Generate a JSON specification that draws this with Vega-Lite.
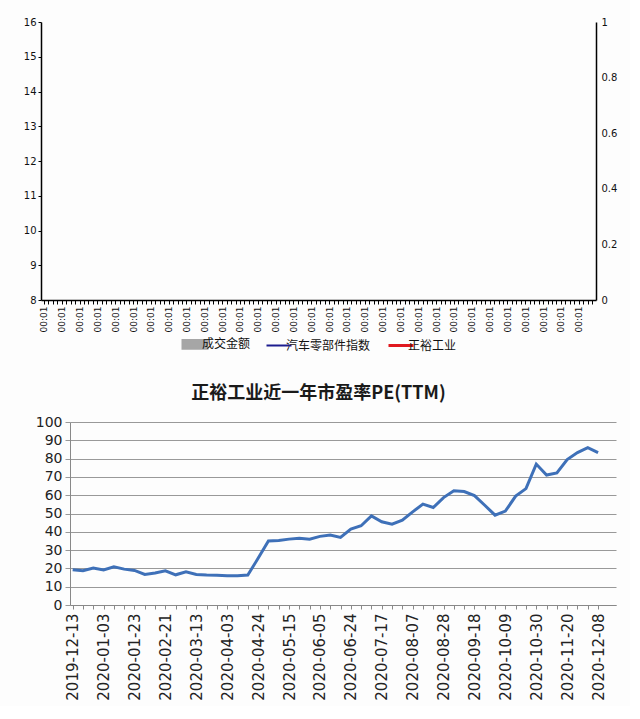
{
  "$schema": "https://vega.github.io/schema/vega-lite/v6.json",
  "background": "#fdfdfd",
  "padding": {"left": 21, "top": 17, "right": 5, "bottom": 5},
  "spacing": 32,
  "resolve": {"scale": {"color": "independent"}, "legend": {"color": "independent"}},
  "config": {"view": {"stroke": null}, "font": "DejaVu Sans"},
  "vconcat": [
    {
      "width": 526,
      "height": 278,
      "data": {"values": [
        {"slot":1},{"slot":2},{"slot":3},{"slot":4},{"slot":5},{"slot":6},{"slot":7},{"slot":8},{"slot":9},{"slot":10},
        {"slot":11},{"slot":12},{"slot":13},{"slot":14},{"slot":15},{"slot":16},{"slot":17},{"slot":18},{"slot":19},{"slot":20},
        {"slot":21},{"slot":22},{"slot":23},{"slot":24},{"slot":25},{"slot":26},{"slot":27},{"slot":28},{"slot":29},{"slot":30},
        {"slot":31},{"slot":32},{"slot":33},{"slot":34},{"slot":35},{"slot":36},{"slot":37},{"slot":38},{"slot":39},{"slot":40},
        {"slot":41},{"slot":42},{"slot":43},{"slot":44},{"slot":45},{"slot":46},{"slot":47},{"slot":48},{"slot":49},{"slot":50},
        {"slot":51},{"slot":52},{"slot":53},{"slot":54},{"slot":55},{"slot":56},{"slot":57},{"slot":58},{"slot":59},{"slot":60},
        {"slot":61},{"slot":62},{"slot":63},{"slot":64},{"slot":65},{"slot":66},{"slot":67},{"slot":68},{"slot":69},{"slot":70},
        {"slot":71},{"slot":72},{"slot":73},{"slot":74},{"slot":75},{"slot":76},{"slot":77},{"slot":78},{"slot":79},{"slot":80},
        {"slot":81},{"slot":82},{"slot":83},{"slot":84},{"slot":85},{"slot":86},{"slot":87},{"slot":88},{"slot":89},{"slot":90},
        {"slot":91},{"slot":92},{"slot":93},{"slot":94},{"slot":95},{"slot":96},{"slot":97},{"slot":98},{"slot":99},{"slot":100},
        {"slot":101},{"slot":102},{"slot":103},{"slot":104},{"slot":105},{"slot":106},{"slot":107},{"slot":108},{"slot":109},{"slot":110},
        {"slot":111},{"slot":112},{"slot":113},{"slot":114},{"slot":115},{"slot":116},{"slot":117},{"slot":118},{"slot":119},{"slot":120},
        {"slot":121},{"slot":122},{"slot":123},{"slot":124}
      ]},
      "layer": [
        {
          "mark": {"type": "rule", "strokeOpacity": 0},
          "encoding": {
            "x": {
              "field": "slot", "type": "ordinal",
              "scale": {"padding": 0.5, "range": [-29, 526]},
              "axis": {
                "title": null, "labelAngle": -90, "labelOverlap": false,
                "labelExpr": "datum.value % 4 == 1 ? '00:01' : ''",
                "labelFont": "DejaVu Sans", "labelFontSize": 9, "labelColor": "#111",
                "labelPadding": 2, "tickSize": 4, "tickColor": "#000", "tickWidth": 1,
                "domainColor": "#000", "domainWidth": 1.5
              }
            }
          }
        },
        {
          "mark": {"type": "line"},
          "encoding": {
            "x": {"field": "slot", "type": "ordinal"},
            "y": {
              "field": "index_value", "type": "quantitative",
              "scale": {"domain": [8, 16], "nice": false, "zero": false},
              "axis": {
                "title": null, "values": [8, 9, 10, 11, 12, 13, 14, 15, 16], "grid": false,
                "offset": 29,
                "labelFont": "DejaVu Sans", "labelFontSize": 10, "labelColor": "#111",
                "tickSize": 3, "tickColor": "#000", "domainColor": "#000", "domainWidth": 1.5
              }
            },
            "color": {
              "field": "series", "type": "nominal",
              "scale": {"domain": ["成交金额", "汽车零部件指数", "正裕工业"], "range": ["#a6a6a6", "#1c1c8f", "#e0191f"]},
              "legend": {
                "title": null, "orient": "none", "direction": "horizontal",
                "legendX": 119, "legendY": 316,
                "labelFont": "Noto Sans CJK SC", "labelFontSize": 12, "labelColor": "#111",
                "symbolSize": 625, "symbolStrokeWidth": 2, "labelOffset": 1, "columnPadding": 11,
                "encode": {
                  "symbols": {
                    "update": {
                      "shape": {"signal": "datum.value === '成交金额' ? 'M-1,-0.35H1V0.35H-1Z' : 'stroke'"},
                      "fill": {"signal": "datum.value === '成交金额' ? '#a6a6a6' : 'transparent'"},
                      "stroke": {"signal": "datum.value === '成交金额' ? 'transparent' : (datum.value === '汽车零部件指数' ? '#1c1c8f' : '#e0191f')"},
                      "strokeWidth": {"signal": "datum.value === '正裕工业' ? 3 : 2"}
                    }
                  }
                }
              }
            }
          }
        },
        {
          "mark": {"type": "line"},
          "encoding": {
            "x": {"field": "slot", "type": "ordinal"},
            "y": {
              "field": "turnover", "type": "quantitative",
              "scale": {"domain": [0, 1], "nice": false},
              "axis": {
                "title": null, "orient": "right", "values": [0, 0.2, 0.4, 0.6, 0.8, 1], "grid": false,
                "format": ".1~f",
                "labelFont": "DejaVu Sans", "labelFontSize": 10, "labelColor": "#111",
                "ticks": false, "labelPadding": 5, "domainColor": "#000", "domainWidth": 1.5
              }
            }
          }
        }
      ],
      "resolve": {"scale": {"y": "independent"}}
    },
    {
      "width": 546,
      "height": 183,
      "title": {
        "text": "正裕工业近一年市盈率PE(TTM)",
        "font": "Noto Sans CJK SC", "fontSize": 18, "fontWeight": "bold", "color": "#1a1a1a",
        "anchor": "middle", "frame": "bounds", "offset": 12
      },
      "data": {"values": [
        {"date": "2019-12-13", "pe": 19.3},
        {"date": "2019-12-20", "pe": 18.7},
        {"date": "2019-12-27", "pe": 20.2},
        {"date": "2020-01-03", "pe": 19.1},
        {"date": "2020-01-10", "pe": 20.9},
        {"date": "2020-01-17", "pe": 19.6},
        {"date": "2020-01-23", "pe": 18.9},
        {"date": "2020-02-07", "pe": 16.7},
        {"date": "2020-02-14", "pe": 17.5},
        {"date": "2020-02-21", "pe": 18.7},
        {"date": "2020-02-28", "pe": 16.5},
        {"date": "2020-03-06", "pe": 18.2},
        {"date": "2020-03-13", "pe": 16.7},
        {"date": "2020-03-20", "pe": 16.4},
        {"date": "2020-03-27", "pe": 16.3},
        {"date": "2020-04-03", "pe": 16.0},
        {"date": "2020-04-10", "pe": 16.0},
        {"date": "2020-04-17", "pe": 16.4},
        {"date": "2020-04-24", "pe": 25.5},
        {"date": "2020-04-30", "pe": 35.0},
        {"date": "2020-05-08", "pe": 35.3},
        {"date": "2020-05-15", "pe": 36.0},
        {"date": "2020-05-22", "pe": 36.5},
        {"date": "2020-05-29", "pe": 36.0},
        {"date": "2020-06-05", "pe": 37.5},
        {"date": "2020-06-12", "pe": 38.2},
        {"date": "2020-06-19", "pe": 36.9},
        {"date": "2020-06-24", "pe": 41.5},
        {"date": "2020-07-03", "pe": 43.3},
        {"date": "2020-07-10", "pe": 48.7},
        {"date": "2020-07-17", "pe": 45.5},
        {"date": "2020-07-24", "pe": 44.2},
        {"date": "2020-07-31", "pe": 46.4},
        {"date": "2020-08-07", "pe": 50.9},
        {"date": "2020-08-14", "pe": 55.1},
        {"date": "2020-08-21", "pe": 53.3},
        {"date": "2020-08-28", "pe": 58.7},
        {"date": "2020-09-04", "pe": 62.4},
        {"date": "2020-09-11", "pe": 62.0},
        {"date": "2020-09-18", "pe": 59.8},
        {"date": "2020-09-25", "pe": 54.5},
        {"date": "2020-09-30", "pe": 49.1},
        {"date": "2020-10-09", "pe": 51.3},
        {"date": "2020-10-16", "pe": 59.5},
        {"date": "2020-10-23", "pe": 63.6},
        {"date": "2020-10-30", "pe": 77.0},
        {"date": "2020-11-06", "pe": 71.0},
        {"date": "2020-11-13", "pe": 72.2},
        {"date": "2020-11-20", "pe": 79.5},
        {"date": "2020-11-27", "pe": 83.3},
        {"date": "2020-12-04", "pe": 86.0},
        {"date": "2020-12-08", "pe": 83.3}
      ]},
      "mark": {"type": "line", "color": "#3e70b8", "strokeWidth": 3},
      "encoding": {
        "x": {
          "field": "date", "type": "ordinal",
          "scale": {"padding": 1.5, "align": 0.13},
          "axis": {
            "title": null, "labelAngle": -90, "labelOverlap": false,
            "labelExpr": "indexof(['2019-12-13','2020-01-03','2020-01-23','2020-02-21','2020-03-13','2020-04-03','2020-04-24','2020-05-15','2020-06-05','2020-06-24','2020-07-17','2020-08-07','2020-08-28','2020-09-18','2020-10-09','2020-10-30','2020-11-20','2020-12-08'], datum.value) >= 0 ? datum.value : ''",
            "labelFont": "DejaVu Sans", "labelFontSize": 15, "labelColor": "#222", "labelPadding": 4,
            "tickSize": 4, "tickColor": "#888", "domainColor": "#888", "domainWidth": 1
          }
        },
        "y": {
          "field": "pe", "type": "quantitative",
          "scale": {"domain": [0, 100], "nice": false},
          "axis": {
            "title": null, "values": [0, 10, 20, 30, 40, 50, 60, 70, 80, 90, 100],
            "labelFont": "DejaVu Sans", "labelFontSize": 14, "labelColor": "#222", "labelPadding": 3,
            "tickSize": 5, "tickColor": "#999", "gridColor": "#999", "gridOpacity": 1, "gridWidth": 1,
            "domainColor": "#888", "minExtent": 49, "maxExtent": 49
          }
        }
      }
    }
  ]
}
